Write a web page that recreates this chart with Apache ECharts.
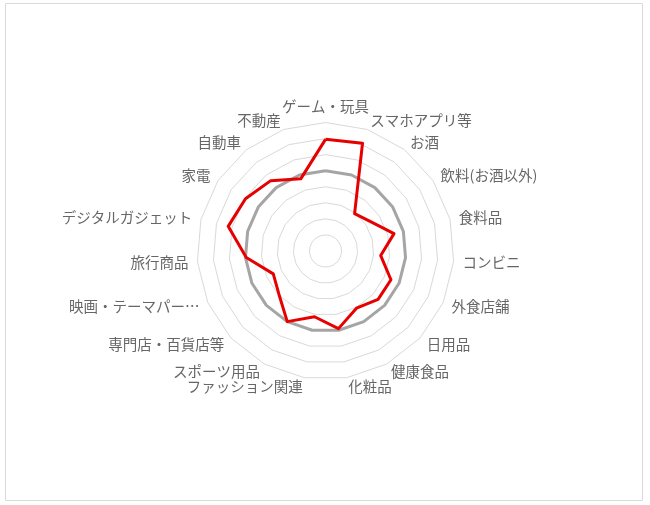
<!DOCTYPE html>
<html><head><meta charset="utf-8">
<script src="https://cdn.jsdelivr.net/npm/echarts@6/dist/echarts.min.js"></script>
<style>html,body{margin:0;padding:0;background:#fff}#c{width:650px;height:505px}</style>
</head><body><div id="c"></div>
<script>
// categories in clockwise order starting at the top
const categories = ['ゲーム・玩具','スマホアプリ等','お酒','飲料(お酒以外)','食料品','コンビニ','外食店舗','日用品','健康食品','化粧品','ファッション関連','スポーツ用品','専門店・百貨店等','映画・テーマパー…','旅行商品','デジタルガジェット','家電','自動車','不動産'];
const redValues = [139,142,59,67,88,69,89,89,81,98,83,100,79,71,99,125,119,111,95];
const grayValues = [100,100,100,100,100,100,100,100,100,100,100,100,100,100,100,100,100,100,100];
const axisMax = 160;

// ECharts places indicators counter-clockwise, so keep first and reverse the rest
function reorder(arr){ return [arr[0]].concat(arr.slice(1).reverse()); }

const chart = echarts.init(document.getElementById('c'));
chart.setOption({
  animation:false,
  backgroundColor:'#fff',
  graphic:[{type:'rect',shape:{x:5.5,y:3.5,width:637,height:497},style:{fill:'none',stroke:'#d9d9d9',lineWidth:1}}],
  radar:{
    center:[325.5,251],
    radius:128.5,
    startAngle:90,
    shape:'polygon',
    splitNumber:8,
    nameGap:9,
    indicator: reorder(categories).map(n=>({name:n,min:0,max:axisMax})),
    axisName:{color:'#666',fontSize:14.5,fontFamily:'"Noto Sans CJK JP", sans-serif'},
    axisLine:{show:false},
    axisTick:{show:false},
    axisLabel:{show:false},
    splitArea:{show:false},
    splitLine:{lineStyle:{color:'#d9d9d9',width:1}}
  },
  series:[{
    type:'radar',
    symbol:'none',
    data:[
      {value:reorder(grayValues),name:'平均',lineStyle:{color:'#a5a5a5',width:3},itemStyle:{color:'#a5a5a5'}},
      {value:reorder(redValues),name:'指数',lineStyle:{color:'#e60000',width:3},itemStyle:{color:'#e60000'}}
    ]
  }]
});
</script></body></html>
